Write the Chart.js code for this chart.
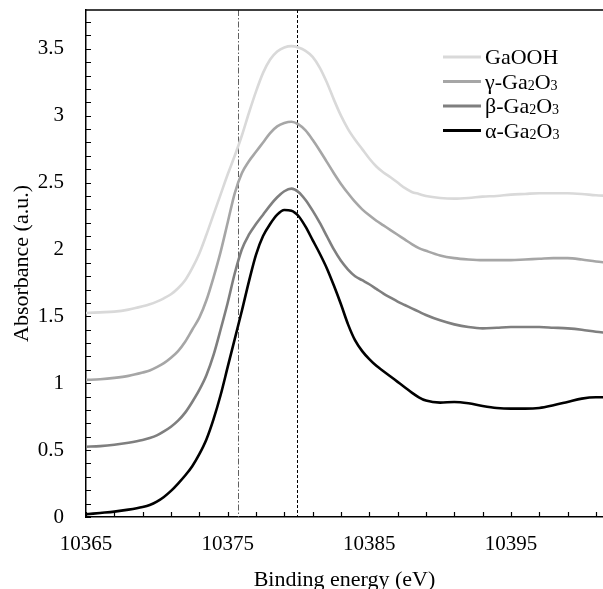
<!DOCTYPE html>
<html>
<head>
<meta charset="utf-8">
<script src="https://cdn.jsdelivr.net/npm/chart.js@4.4.1/dist/chart.umd.min.js"></script>
<style>
  html, body { margin: 0; padding: 0; background: #ffffff; }
  #wrap { width: 603px; height: 589px; position: relative; }
</style>
</head>
<body>
<div id="wrap"><canvas id="c" width="603" height="589"></canvas></div>
<script>
// ---- data ----
const energies = [10365,10366,10367,10368,10369,
  10369.5,10370,10370.5,10371,10371.5,10372,10372.5,10373,10373.5,10374,
  10374.5,10375,10375.5,10376,10376.5,10377,10377.5,10378,10378.5,10379,
  10379.5,10380,10380.5,10381,10381.5,10382,10382.5,10383,10383.5,10384,
  10384.5,10385,10385.5,10386,10386.5,10387,10387.5,10388,10388.5,10389,
  10390,10391,10392,10393,10394,10395,10396,10397,10398,10399,10400,10401,10402];
const seriesLabels = ['GaOOH', 'γ-Ga₂O₃', 'β-Ga₂O₃', 'α-Ga₂O₃'];
const gaooh = [1.525,1.53,1.535,1.55,1.575,
  1.59,1.61,1.635,1.665,1.71,1.77,1.86,1.97,2.11,2.26,
  2.41,2.56,2.70,2.85,3.02,3.18,3.32,3.42,3.48,3.51,
  3.52,3.51,3.485,3.44,3.36,3.25,3.12,3.00,2.90,2.82,
  2.75,2.68,2.62,2.575,2.54,2.50,2.46,2.43,2.415,2.40,
  2.385,2.38,2.385,2.395,2.40,2.41,2.415,2.42,2.42,2.42,2.415,2.405,2.40];
const gammaGa2O3 = [1.025,1.03,1.04,1.055,1.08,
  1.095,1.12,1.15,1.19,1.24,1.31,1.40,1.49,1.62,1.79,
  1.98,2.20,2.42,2.57,2.66,2.73,2.80,2.87,2.92,2.945,
  2.955,2.935,2.89,2.82,2.74,2.655,2.57,2.49,2.42,2.355,
  2.30,2.255,2.215,2.18,2.145,2.11,2.075,2.04,2.01,1.99,
  1.955,1.935,1.925,1.92,1.92,1.92,1.925,1.93,1.935,1.935,1.925,1.91,1.90];
const betaGa2O3 = [0.525,0.53,0.54,0.555,0.575,
  0.59,0.61,0.64,0.675,0.72,0.78,0.86,0.95,1.06,1.21,
  1.40,1.60,1.82,2.00,2.11,2.19,2.26,2.33,2.39,2.435,
  2.455,2.43,2.37,2.29,2.20,2.10,2.00,1.915,1.85,1.80,
  1.77,1.74,1.705,1.67,1.64,1.61,1.585,1.56,1.535,1.51,
  1.47,1.44,1.42,1.41,1.415,1.42,1.42,1.42,1.415,1.41,1.40,1.385,1.375];
const alphaGa2O3 = [0.02,0.03,0.04,0.055,0.075,
  0.09,0.115,0.15,0.195,0.25,0.31,0.38,0.47,0.58,0.73,
  0.91,1.12,1.33,1.54,1.76,1.96,2.10,2.19,2.26,2.295,
  2.29,2.25,2.17,2.07,1.97,1.86,1.73,1.59,1.44,1.32,
  1.24,1.18,1.13,1.09,1.05,1.01,0.97,0.93,0.895,0.87,
  0.855,0.86,0.85,0.83,0.815,0.81,0.81,0.815,0.835,0.86,0.885,0.895,0.895];
const xTickValues = [10365, 10375, 10385, 10395];
const yTickValues = [0, 0.5, 1, 1.5, 2, 2.5, 3, 3.5];
const refLineDashDot = 10375.75;
const refLineDashed = 10379.9;

// ---- styling ----
const FONT = "'Liberation Serif', 'Times New Roman', serif";
const colors = ['#d9d9d9', '#a6a6a6', '#7f7f7f', '#000000'];
const seriesValues = [gaooh, gammaGa2O3, betaGa2O3, alphaGa2O3];

const datasets = seriesValues.map((vals, i) => ({
  label: seriesLabels[i],
  data: energies.map((e, k) => ({ x: e, y: vals[k] })),
  borderColor: colors[i],
  backgroundColor: colors[i],
  borderWidth: 2.6,
  pointRadius: 0,
  cubicInterpolationMode: 'monotone',
  fill: false,
  order: 3 - i
}));

const SUB = { '₂': '2', '₃': '3' };

const decorPlugin = {
  id: 'decor',
  beforeDatasetsDraw(chart) {
    const { ctx, chartArea: a, scales: { x } } = chart;
    ctx.save();
    ctx.lineWidth = 1;
    let px = Math.round(x.getPixelForValue(refLineDashDot)) + 0.5;
    ctx.strokeStyle = '#606060';
    ctx.setLineDash([6, 2, 1.5, 2]);
    ctx.beginPath(); ctx.moveTo(px, a.top); ctx.lineTo(px, a.bottom); ctx.stroke();
    px = Math.round(x.getPixelForValue(refLineDashed)) + 0.5;
    ctx.strokeStyle = '#000000';
    ctx.setLineDash([3, 2]);
    ctx.beginPath(); ctx.moveTo(px, a.top); ctx.lineTo(px, a.bottom); ctx.stroke();
    ctx.restore();
  },
  afterDraw(chart) {
    const { ctx, chartArea: a, scales: { x, y } } = chart;
    ctx.save();
    ctx.strokeStyle = '#000';
    ctx.lineWidth = 1.2;
    ctx.setLineDash([]);
    ctx.beginPath();
    for (let v = 0; v <= y.max + 1e-9; v += 0.1) {
      const py = Math.round(y.getPixelForValue(v)) + 0.5;
      if (py < a.top + 2) continue;
      ctx.moveTo(a.left, py); ctx.lineTo(a.left + 5, py);
    }
    for (let v = x.min; v <= x.max; v += 2) {
      const pxx = Math.round(x.getPixelForValue(v)) + 0.5;
      ctx.moveTo(pxx, a.bottom); ctx.lineTo(pxx, a.bottom - 5);
    }
    ctx.stroke();
    ctx.lineWidth = 1.5;
    ctx.beginPath(); ctx.moveTo(a.left, a.top); ctx.lineTo(a.right, a.top); ctx.stroke();

    // legend
    const lx0 = 443, lx1 = 481, tx = 485, y0 = 57, dy = 24.5;
    const fs = 22, subFs = 14;
    chart.data.datasets.forEach((ds, i) => {
      const ry = y0 + i * dy;
      ctx.strokeStyle = ds.borderColor;
      ctx.lineWidth = 3;
      ctx.beginPath(); ctx.moveTo(lx0, ry); ctx.lineTo(lx1, ry); ctx.stroke();
      ctx.fillStyle = '#000';
      ctx.textBaseline = 'alphabetic';
      ctx.textAlign = 'left';
      let cx = tx;
      const base = ry + 7;
      for (const ch of ds.label) {
        if (SUB[ch]) {
          ctx.font = subFs + 'px ' + FONT;
          ctx.fillText(SUB[ch], cx, base + 1);
          cx += ctx.measureText(SUB[ch]).width;
        } else {
          ctx.font = fs + 'px ' + FONT;
          ctx.fillText(ch, cx, base);
          cx += ctx.measureText(ch).width;
        }
      }
    });
    ctx.restore();
  }
};

new Chart(document.getElementById('c'), {
  type: 'line',
  data: { datasets },
  plugins: [decorPlugin],
  options: {
    responsive: false,
    animation: false,
    devicePixelRatio: 1,
    layout: { padding: { top: 10, right: 0, left: 0, bottom: 0 } },
    plugins: { legend: { display: false }, tooltip: { enabled: false } },
    scales: {
      x: {
        type: 'linear',
        min: 10365,
        max: 10401.5,
        afterFit(s) { s.height = 72; s.paddingLeft = 0; s.paddingRight = 0; },
        afterBuildTicks(s) { s.ticks = xTickValues.map(v => ({ value: v })); },
        grid: { display: false, drawTicks: false },
        border: { display: true, color: '#000', width: 1.5 },
        ticks: { color: '#000', font: { family: FONT, size: 21 }, padding: 15, maxRotation: 0, autoSkip: false, callback: v => String(v) },
        title: { display: true, text: 'Binding energy (eV)', color: '#000', font: { family: FONT, size: 22 }, padding: { top: 0, bottom: -4 } }
      },
      y: {
        type: 'linear',
        min: 0,
        max: 3.79,
        afterFit(s) { s.width = 86; s.paddingTop = 0; s.paddingBottom = 0; },
        afterBuildTicks(s) { s.ticks = yTickValues.map(v => ({ value: v })); },
        grid: { display: false, drawTicks: false },
        border: { display: true, color: '#000', width: 1.5 },
        ticks: { color: '#000', font: { family: FONT, size: 21 }, padding: 22, autoSkip: false, callback: v => String(v) },
        title: { display: true, text: 'Absorbance (a.u.)', color: '#000', font: { family: FONT, size: 22 }, padding: { top: 9, bottom: 0 } }
      }
    }
  }
});
</script>
</body>
</html>
